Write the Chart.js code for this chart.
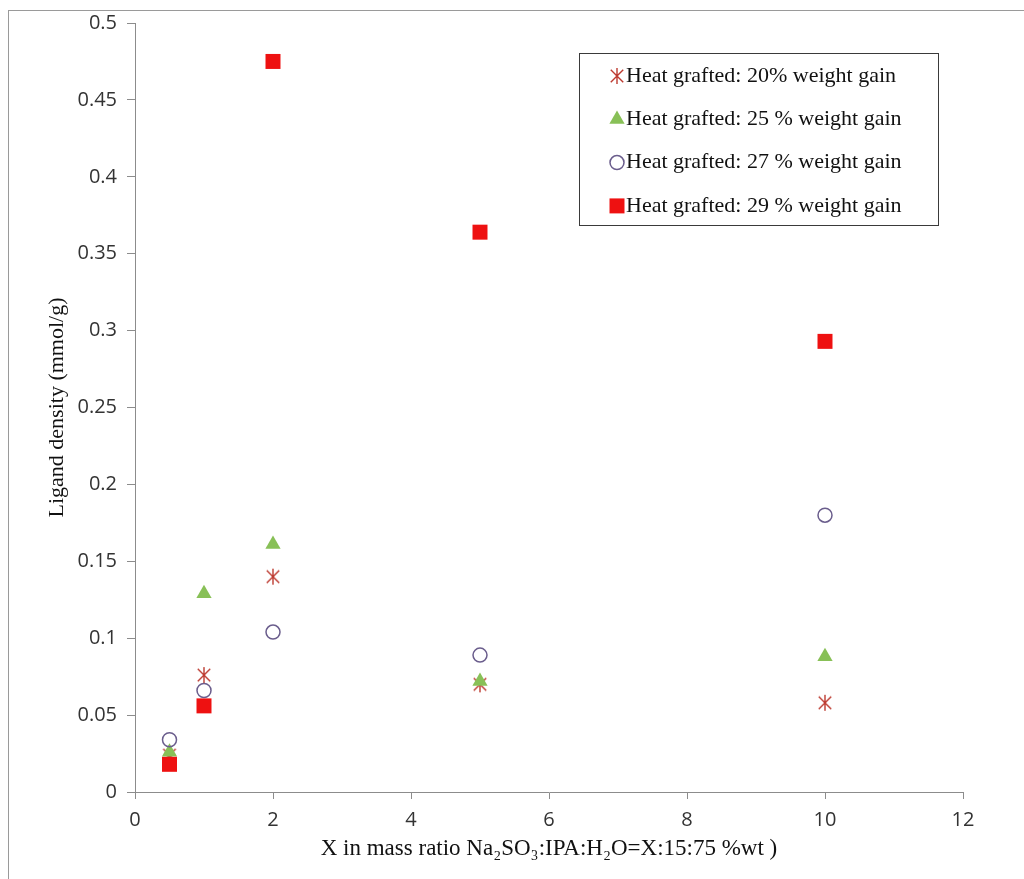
<!DOCTYPE html>
<html>
<head>
<meta charset="utf-8">
<script src="https://cdn.jsdelivr.net/npm/chart.js@4.4.1/dist/chart.umd.min.js"></script>
<style>
    html, body { margin: 0; padding: 0; background: #fff; }
    #chart { display: block; }
</style>
</head>
<body>
<canvas id="chart" width="1024" height="879"></canvas>
<script>
// ---------------- DATA ----------------
const ratioX = [0.5, 1, 2, 5, 10];
const gain20 = [0.024, 0.076, 0.140, 0.070, 0.058];
const gain25 = [0.026, 0.129, 0.161, 0.072, 0.088];
const gain27 = [0.034, 0.066, 0.104, 0.089, 0.180];
const gain29 = [0.018, 0.056, 0.475, 0.364, 0.293];

const seriesNames = [
    "Heat grafted: 20% weight gain",
    "Heat grafted: 25 % weight gain",
    "Heat grafted: 27 % weight gain",
    "Heat grafted: 29 % weight gain"
];

const xTickLabels = ["0", "2", "4", "6", "8", "10", "12"];
const yTickLabels = ["0", "0.05", "0.1", "0.15", "0.2", "0.25", "0.3", "0.35", "0.4", "0.45", "0.5"];

const AXIS_GREY = "#8c8c8c";
const SERIF = "'Liberation Serif', 'Times New Roman', serif";
const SANS = "'Open Sans', 'Liberation Sans', sans-serif";

// asterisk marker: X with a vertical stroke
function makeAsterisk(size, color) {
    const c = document.createElement("canvas");
    c.width = c.height = size;
    const g = c.getContext("2d");
    const m = size / 2, r = size / 2 - 1, d = r * 0.78;
    g.strokeStyle = color;
    g.lineWidth = 1.4;
    g.beginPath();
    g.moveTo(m, m - r); g.lineTo(m, m + r);
    g.moveTo(m - d, m - d); g.lineTo(m + d, m + d);
    g.moveTo(m + d, m - d); g.lineTo(m - d, m + d);
    g.stroke();
    return c;
}

const asterisk = makeAsterisk(18, "#bd3a30");

function points(ys) {
    return ratioX.map((x, i) => ({ x: x, y: ys[i] }));
}

// ---------------- PLUGINS ----------------
const frame = {
    id: "frame",
    beforeDraw(chart) {
        const ctx = chart.ctx;
        ctx.save();
        ctx.fillStyle = "#fff";
        ctx.fillRect(0, 0, chart.width, chart.height);
        ctx.strokeStyle = "#9a9a9a";
        ctx.lineWidth = 1;
        ctx.strokeRect(8.5, 10.5, 1100, 1000);
        ctx.restore();
    }
};

const boxLegend = {
    id: "boxLegend",
    afterDraw(chart) {
        const ctx = chart.ctx;
        const left = 579, top = 53, w = 359, h = 172;
        ctx.save();
        ctx.fillStyle = "#fff";
        ctx.fillRect(left, top, w, h);
        ctx.strokeStyle = "#3a3a3a";
        ctx.lineWidth = 1;
        ctx.strokeRect(left + 0.5, top + 0.5, w, h);

        chart.data.datasets.forEach((ds, i) => {
            const y = 76 + i * 43.3;
            ctx.fillStyle = ds.pointBackgroundColor;
            ctx.strokeStyle = ds.pointBorderColor;
            ctx.lineWidth = ds.pointBorderWidth;
            Chart.helpers.drawPoint(ctx, {
                pointStyle: ds.pointStyle,
                radius: ds.pointRadius,
                rotation: 0,
                borderWidth: ds.pointBorderWidth
            }, 617, y);

            ctx.fillStyle = "#111";
            ctx.font = "22px " + SERIF;
            ctx.textAlign = "left";
            ctx.textBaseline = "middle";
            ctx.fillText(seriesNames[i], 626, y);
        });
        ctx.restore();
    }
};

// ---------------- CHART ----------------
new Chart(document.getElementById("chart"), {
    type: "scatter",
    data: {
        datasets: [
            {
                label: seriesNames[0],
                data: points(gain20),
                pointStyle: asterisk,
                pointRadius: 9,
                pointBorderWidth: 1,
                pointBackgroundColor: "#bd3a30",
                pointBorderColor: "#bd3a30",
                order: 3
            },
            {
                label: seriesNames[1],
                data: points(gain25),
                pointStyle: "triangle",
                pointRadius: 8.8,
                pointBorderWidth: 0,
                pointBackgroundColor: "#88c057",
                pointBorderColor: "#88c057",
                order: 2
            },
            {
                label: seriesNames[2],
                data: points(gain27),
                pointStyle: "circle",
                pointRadius: 7,
                pointBorderWidth: 1.5,
                pointBackgroundColor: "rgba(255,255,255,0)",
                pointBorderColor: "#6a5d8c",
                order: 1
            },
            {
                label: seriesNames[3],
                data: points(gain29),
                pointStyle: "rect",
                pointRadius: 10.6,
                pointBorderWidth: 0,
                pointBackgroundColor: "#ee1111",
                pointBorderColor: "#ee1111",
                order: 0
            }
        ]
    },
    options: {
        responsive: false,
        animation: false,
        layout: { padding: { top: 23, right: 61, left: 0, bottom: 0 } },
        plugins: {
            legend: { display: false },
            tooltip: { enabled: false }
        },
        scales: {
            x: {
                type: "linear",
                min: 0,
                max: 12,
                afterFit(scale) { scale.height = 87; },
                ticks: {
                    stepSize: 2,
                    padding: 9,
                    color: "#333",
                    font: { family: SANS, size: 20 },
                    callback: (v, i) => xTickLabels[i]
                },
                grid: { drawOnChartArea: false, tickLength: 7, color: AXIS_GREY },
                border: { color: AXIS_GREY },
                title: {
                    display: true,
                    text: "X in mass ratio Na\u2082SO\u2083:IPA:H\u2082O=X:15:75 %wt )",
                    color: "#111",
                    font: { family: SERIF, size: 23 },
                    padding: { top: 0, bottom: 16 }
                }
            },
            y: {
                type: "linear",
                min: 0,
                max: 0.5,
                afterFit(scale) { scale.width = 135; },
                ticks: {
                    stepSize: 0.05,
                    padding: 10,
                    color: "#333",
                    font: { family: SANS, size: 20 },
                    callback: (v, i) => yTickLabels[i]
                },
                grid: { drawOnChartArea: false, tickLength: 8, color: AXIS_GREY },
                border: { color: AXIS_GREY },
                title: {
                    display: true,
                    text: "Ligand density (mmol/g)",
                    color: "#111",
                    font: { family: SERIF, size: 22 },
                    padding: { top: 44, bottom: 0 }
                }
            }
        }
    },
    plugins: [frame, boxLegend]
});
</script>
</body>
</html>
